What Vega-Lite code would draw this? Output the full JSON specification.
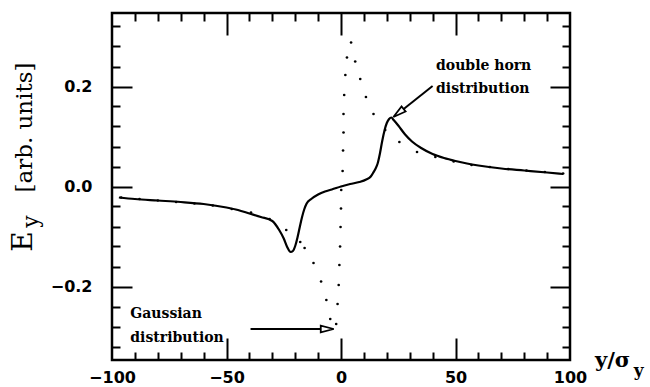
{
  "$schema": "https://vega.github.io/schema/vega-lite/v6.json",
  "width": 458,
  "height": 347,
  "autosize": {"type": "none"},
  "padding": {"left": 112, "top": 13, "right": 80, "bottom": 27},
  "background": "white",
  "config": {
    "view": {"stroke": "black", "strokeWidth": 2.5},
    "axis": {"domain": false, "grid": false, "tickColor": "black", "tickWidth": 2, "labelFont": "DejaVu Sans", "labelFontWeight": "bold", "labelFontSize": 16, "labelColor": "black"}
  },
  "datasets": {
    "solid": [
      {"x": -97, "y": -0.022}, {"x": -90, "y": -0.025}, {"x": -80, "y": -0.028}, {"x": -70, "y": -0.031},
      {"x": -60, "y": -0.035}, {"x": -50, "y": -0.042}, {"x": -45, "y": -0.047}, {"x": -40, "y": -0.054},
      {"x": -35, "y": -0.061}, {"x": -30, "y": -0.069}, {"x": -27, "y": -0.087}, {"x": -25, "y": -0.104},
      {"x": -23.5, "y": -0.121}, {"x": -22, "y": -0.131}, {"x": -21, "y": -0.129}, {"x": -20, "y": -0.119},
      {"x": -19, "y": -0.102}, {"x": -18, "y": -0.081}, {"x": -17, "y": -0.061}, {"x": -16, "y": -0.045},
      {"x": -15, "y": -0.034}, {"x": -13, "y": -0.025}, {"x": -10, "y": -0.016}, {"x": -7, "y": -0.010},
      {"x": -4, "y": -0.006}, {"x": 0, "y": 0.0}, {"x": 4, "y": 0.005}, {"x": 8, "y": 0.009},
      {"x": 11, "y": 0.014}, {"x": 13, "y": 0.020}, {"x": 14, "y": 0.027}, {"x": 15, "y": 0.035},
      {"x": 16, "y": 0.046}, {"x": 17, "y": 0.066}, {"x": 18, "y": 0.091}, {"x": 19, "y": 0.112},
      {"x": 20, "y": 0.127}, {"x": 21, "y": 0.135}, {"x": 22, "y": 0.138}, {"x": 23, "y": 0.133},
      {"x": 25, "y": 0.122}, {"x": 28, "y": 0.104}, {"x": 31, "y": 0.090}, {"x": 35, "y": 0.077},
      {"x": 40, "y": 0.065}, {"x": 45, "y": 0.057}, {"x": 50, "y": 0.051}, {"x": 55, "y": 0.046},
      {"x": 60, "y": 0.042}, {"x": 70, "y": 0.036}, {"x": 80, "y": 0.032}, {"x": 90, "y": 0.028},
      {"x": 97, "y": 0.025}
    ],
    "dots": [
      {"x": -96, "y": -0.022}, {"x": -88, "y": -0.025}, {"x": -80, "y": -0.028}, {"x": -72, "y": -0.031},
      {"x": -64, "y": -0.034}, {"x": -56, "y": -0.038}, {"x": -47.7, "y": -0.045}, {"x": -39.3, "y": -0.052},
      {"x": -31.2, "y": -0.065}, {"x": -23.9, "y": -0.087}, {"x": -17.8, "y": -0.111}, {"x": -15.9, "y": -0.123},
      {"x": -12.0, "y": -0.153}, {"x": -8.7, "y": -0.190}, {"x": -6.4, "y": -0.227}, {"x": -4.7, "y": -0.265},
      {"x": -2.1, "y": -0.275}, {"x": -1.5, "y": -0.235}, {"x": -1.0, "y": -0.197}, {"x": -0.7, "y": -0.157},
      {"x": -0.4, "y": -0.120}, {"x": -0.2, "y": -0.081}, {"x": 0.0, "y": -0.044}, {"x": 0.1, "y": -0.007},
      {"x": 0.7, "y": 0.031}, {"x": 0.9, "y": 0.072}, {"x": 1.1, "y": 0.108}, {"x": 1.1, "y": 0.145},
      {"x": 1.4, "y": 0.183}, {"x": 1.9, "y": 0.223}, {"x": 2.6, "y": 0.258}, {"x": 4.4, "y": 0.288},
      {"x": 6.2, "y": 0.250}, {"x": 8.4, "y": 0.215}, {"x": 10.9, "y": 0.179}, {"x": 14.2, "y": 0.145},
      {"x": 19.3, "y": 0.113}, {"x": 25.5, "y": 0.089}, {"x": 33.2, "y": 0.069}, {"x": 41.2, "y": 0.059},
      {"x": 49.2, "y": 0.050}, {"x": 57, "y": 0.043}, {"x": 65, "y": 0.039}, {"x": 73, "y": 0.035},
      {"x": 81, "y": 0.032}, {"x": 89, "y": 0.029}, {"x": 97, "y": 0.026}
    ],
    "texts": [
      {"t": "double horn", "x": 41.5, "y": 0.233, "g": "a"},
      {"t": "distribution", "x": 41.5, "y": 0.187, "g": "a"},
      {"t": "Gaussian", "x": -92, "y": -0.263, "g": "a"},
      {"t": "distribution", "x": -92, "y": -0.311, "g": "a"},
      {"t": "[arb. units]", "x": -138.2, "y": 0.118, "g": "yt"},
      {"t": "E", "x": -138.4, "y": -0.110, "g": "E"},
      {"t": "y", "x": -135.2, "y": -0.070, "g": "ys"},
      {"t": "y/σ", "x": 110.9, "y": -0.361, "g": "xt"},
      {"t": "y", "x": 127.8, "y": -0.378, "g": "xs"}
    ],
    "arrows": [
      {"id": "dh", "x": 40.0, "y": 0.201}, {"id": "dh", "x": 26.0, "y": 0.150},
      {"id": "g", "x": -39.5, "y": -0.285}, {"id": "g", "x": -6.0, "y": -0.285}
    ],
    "headDH": [{"x": 25.1, "y": 0.147}],
    "headG": [{"x": -6.0, "y": -0.285}]
  },
  "layer": [
    {
      "data": {"name": "solid"},
      "mark": {"type": "line", "color": "black", "strokeWidth": 2.2, "interpolate": "monotone"},
      "encoding": {
        "x": {"field": "x", "type": "quantitative", "scale": {"domain": [-100, 100], "nice": false, "zero": false},
              "axis": {"orient": "bottom", "title": null, "values": [-100, -50, 0, 50, 100], "ticks": false, "labelPadding": 9, "labelFlush": false, "labelOverlap": false}},
        "y": {"field": "y", "type": "quantitative", "scale": {"domain": [-0.347, 0.347], "nice": false, "zero": false},
              "axis": {"orient": "left", "title": null, "values": [-0.2, 0, 0.2], "format": ".1f", "ticks": false, "labelPadding": 20}}
      }
    },
    {
      "data": {"name": "dots"},
      "mark": {"type": "point", "shape": "circle", "filled": true, "color": "black", "size": 7, "opacity": 1},
      "encoding": {
        "x": {"field": "x", "type": "quantitative", "scale": {"domain": [-100, 100], "nice": false, "zero": false},
              "axis": {"orient": "bottom", "title": null, "values": [-50, 0, 50], "tickSize": -22, "labels": false}},
        "y": {"field": "y", "type": "quantitative", "scale": {"domain": [-0.347, 0.347], "nice": false, "zero": false},
              "axis": {"orient": "left", "title": null, "values": [-0.2, 0, 0.2], "tickSize": -20, "labels": false}}
      }
    },
    {
      "data": {"name": "texts"},
      "transform": [{"filter": "datum.g === 'a'"}],
      "mark": {"type": "text", "font": "DejaVu Serif", "fontWeight": "bold", "fontSize": 14, "align": "left", "baseline": "alphabetic", "color": "black"},
      "encoding": {
        "text": {"field": "t"},
        "x": {"field": "x", "type": "quantitative", "scale": {"domain": [-100, 100], "nice": false, "zero": false},
              "axis": {"orient": "bottom", "title": null, "values": [-90, -80, -70, -60, -40, -30, -20, -10, 10, 20, 30, 40, 60, 70, 80, 90], "tickSize": -8, "labels": false}},
        "y": {"field": "y", "type": "quantitative", "scale": {"domain": [-0.347, 0.347], "nice": false, "zero": false},
              "axis": {"orient": "left", "title": null, "values": [-0.32, -0.28, -0.24, -0.16, -0.12, -0.08, -0.04, 0.04, 0.08, 0.12, 0.16, 0.24, 0.28, 0.32], "tickSize": -8, "labels": false}}
      }
    },
    {
      "data": {"name": "arrows"},
      "mark": {"type": "line", "color": "black", "strokeWidth": 2},
      "encoding": {
        "detail": {"field": "id"},
        "x": {"field": "x", "type": "quantitative", "scale": {"domain": [-100, 100], "nice": false, "zero": false},
              "axis": {"orient": "top", "title": null, "values": [-50, 0, 50], "tickSize": -22, "labels": false}},
        "y": {"field": "y", "type": "quantitative", "scale": {"domain": [-0.347, 0.347], "nice": false, "zero": false},
              "axis": {"orient": "right", "title": null, "values": [-0.2, 0, 0.2], "tickSize": -20, "labels": false}}
      }
    },
    {
      "data": {"name": "headDH"},
      "mark": {"type": "point", "shape": "M1,0L-1,-0.5L-1,0.5Z", "size": 169, "angle": 141.5, "filled": true, "fill": "white", "stroke": "black", "strokeWidth": 1.8, "opacity": 1},
      "encoding": {
        "x": {"field": "x", "type": "quantitative", "scale": {"domain": [-100, 100], "nice": false, "zero": false},
              "axis": {"orient": "top", "title": null, "values": [-90, -80, -70, -60, -40, -30, -20, -10, 10, 20, 30, 40, 60, 70, 80, 90], "tickSize": -8, "labels": false}},
        "y": {"field": "y", "type": "quantitative", "scale": {"domain": [-0.347, 0.347], "nice": false, "zero": false},
              "axis": {"orient": "right", "title": null, "values": [-0.32, -0.28, -0.24, -0.16, -0.12, -0.08, -0.04, 0.04, 0.08, 0.12, 0.16, 0.24, 0.28, 0.32], "tickSize": -8, "labels": false}}
      }
    },
    {
      "data": {"name": "headG"},
      "mark": {"type": "point", "shape": "M1,0L-1,-0.5L-1,0.5Z", "size": 169, "angle": 0, "filled": true, "fill": "white", "stroke": "black", "strokeWidth": 1.8, "opacity": 1},
      "encoding": {
        "x": {"field": "x", "type": "quantitative", "scale": {"domain": [-100, 100], "nice": false, "zero": false}, "axis": null},
        "y": {"field": "y", "type": "quantitative", "scale": {"domain": [-0.347, 0.347], "nice": false, "zero": false}, "axis": null}
      }
    },
    {
      "data": {"name": "texts"},
      "transform": [{"filter": "datum.g === 'yt'"}],
      "mark": {"type": "text", "font": "DejaVu Serif", "fontSize": 23, "angle": 270, "align": "center", "baseline": "middle", "color": "black"},
      "encoding": {
        "text": {"field": "t"},
        "x": {"field": "x", "type": "quantitative", "scale": {"domain": [-100, 100], "nice": false, "zero": false}, "axis": null},
        "y": {"field": "y", "type": "quantitative", "scale": {"domain": [-0.347, 0.347], "nice": false, "zero": false}, "axis": null}
      }
    },
    {
      "data": {"name": "texts"},
      "transform": [{"filter": "datum.g === 'E'"}],
      "mark": {"type": "text", "font": "DejaVu Serif", "fontSize": 28, "angle": 270, "align": "center", "baseline": "middle", "color": "black"},
      "encoding": {
        "text": {"field": "t"},
        "x": {"field": "x", "type": "quantitative", "scale": {"domain": [-100, 100], "nice": false, "zero": false}, "axis": null},
        "y": {"field": "y", "type": "quantitative", "scale": {"domain": [-0.347, 0.347], "nice": false, "zero": false}, "axis": null}
      }
    },
    {
      "data": {"name": "texts"},
      "transform": [{"filter": "datum.g === 'ys'"}],
      "mark": {"type": "text", "font": "DejaVu Serif", "fontSize": 22, "angle": 270, "align": "center", "baseline": "middle", "color": "black"},
      "encoding": {
        "text": {"field": "t"},
        "x": {"field": "x", "type": "quantitative", "scale": {"domain": [-100, 100], "nice": false, "zero": false}, "axis": null},
        "y": {"field": "y", "type": "quantitative", "scale": {"domain": [-0.347, 0.347], "nice": false, "zero": false}, "axis": null}
      }
    },
    {
      "data": {"name": "texts"},
      "transform": [{"filter": "datum.g === 'xt'"}],
      "mark": {"type": "text", "font": "DejaVu Serif", "fontWeight": "bold", "fontSize": 21, "align": "left", "baseline": "alphabetic", "color": "black"},
      "encoding": {
        "text": {"field": "t"},
        "x": {"field": "x", "type": "quantitative", "scale": {"domain": [-100, 100], "nice": false, "zero": false}, "axis": null},
        "y": {"field": "y", "type": "quantitative", "scale": {"domain": [-0.347, 0.347], "nice": false, "zero": false}, "axis": null}
      }
    },
    {
      "data": {"name": "texts"},
      "transform": [{"filter": "datum.g === 'xs'"}],
      "mark": {"type": "text", "font": "DejaVu Serif", "fontWeight": "bold", "fontSize": 17, "align": "left", "baseline": "alphabetic", "color": "black"},
      "encoding": {
        "text": {"field": "t"},
        "x": {"field": "x", "type": "quantitative", "scale": {"domain": [-100, 100], "nice": false, "zero": false}, "axis": null},
        "y": {"field": "y", "type": "quantitative", "scale": {"domain": [-0.347, 0.347], "nice": false, "zero": false}, "axis": null}
      }
    }
  ],
  "resolve": {"axis": {"x": "independent", "y": "independent"}}
}
